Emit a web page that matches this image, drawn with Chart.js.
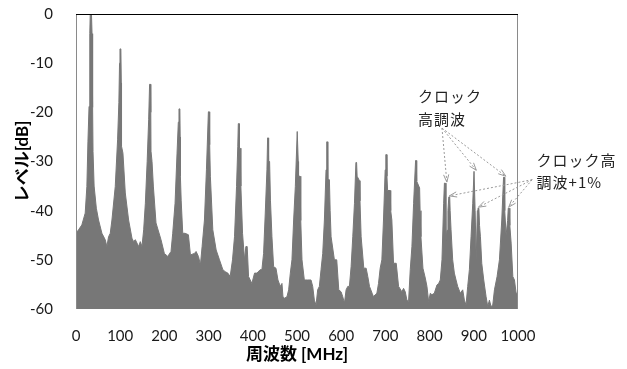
<!DOCTYPE html>
<html>
<head>
<meta charset="utf-8">
<script src="https://cdn.jsdelivr.net/npm/chart.js@4.4.1/dist/chart.umd.min.js"></script>
<style>
  html, body { margin: 0; padding: 0; background: #ffffff; }
  #spectrum { display: block; }
</style>
</head>
<body>
<canvas id="spectrum" width="627" height="369"></canvas>
<script>
const freqMHz = [
  0, 5.7, 13.2, 20.8, 24.6, 27, 29.5, 31.2, 32.2, 35, 36.3, 37.6, 38.5, 41, 46, 51, 58.6, 66.1, 69.9,
  73.7, 77.5, 81.3, 88.8, 94.1, 97, 98.5, 99.5, 101.5, 102.5, 103, 106.2, 111.5, 119, 126.6, 130.4, 134.2, 138, 141.7, 145.5, 149.3, 153.1,
  156.9, 161, 164.4, 166.5, 168.5, 169.2, 169.7, 172, 175, 181, 192.3, 199.9, 207.5, 215,
  218.8, 224.1, 228.6, 231.5, 233, 235, 235.7, 236.2, 238, 241.5, 246.8, 254.3, 258.9, 267.9, 271.7, 277, 281.5,
  285.3, 290.6, 295.1, 298, 299.5, 301.5, 302.2, 302.7, 304, 309.5, 317.1, 324.6, 332.2,
  337.5, 343.5, 348.8, 354.1, 358.6, 363.2, 366, 367.2, 369, 369.7, 371.5, 373, 376.8, 381.3, 384.3, 387.3, 390.4, 397.9, 404, 409.3, 416.8, 420.6,
  424.4, 428.2, 432, 433.5, 435, 435.8, 438, 440, 443.3, 447.1, 452.4, 456.9, 462.2, 466, 468.2, 472, 477.3, 481.1, 484.9, 488.6, 492.4, 496.2,
  500.5, 502.2, 502.8, 503.5, 506.8, 508.5, 511.3, 516.6, 524.2, 531.7, 535.5, 539.3, 543.1, 546.8, 550.6, 554.4, 558.2, 562, 565.7,
  567.3, 568.8, 569.5, 570, 573.3, 575, 577.1, 584.6, 589.9, 594.5, 599.7, 603.5, 607.3, 611.1, 614.9, 618.6, 622.4, 626.2, 630,
  633.3, 634.8, 636, 641.3, 642.5, 645.1, 651.1, 656.4, 660.2, 664, 670, 673.1, 676.9, 680.7, 684.4, 688.2, 692, 695.7, 699.5,
  701, 702.6, 703.5, 705, 710.9, 712, 714.6, 718.4, 724.5, 729.8, 737.3, 741.1, 744.9, 748.7, 752.4, 756.2, 760, 763.8,
  768.3, 769.8, 770.8, 777.4, 778.5, 780.4, 784.9, 790.2, 794, 797.8, 801.6, 805.3, 810.6, 816.7, 820.5, 824.2, 828, 831.8,
  833.5, 835.5, 837, 839.4, 841.5, 843.5, 845.5, 846.5, 848.5, 852.2, 856, 859.8, 863.5, 869.6, 874.9, 878.7, 882.4, 886.2, 890, 893.8, 897.6,
  900.5, 902, 903, 905.5, 908, 909.5, 911.5, 913, 915, 918, 922.5, 927.8, 931.6, 935.3, 939.1, 942.9, 946.7, 952.7, 958, 963.3,
  967.3, 968.8, 970, 973.1, 976.5, 978, 980, 981.5, 984.5, 988.3, 992, 995.8, 1000
];
const levelDb = [
  -44.6, -43.9, -42.9, -40.5, -35.1, -26, -18.8, -4, 0, 0, -4, -19, -28, -35, -39.5, -41.9, -44.6, -45.9, -47.3,
  -45.3, -44.6, -41.9, -35.1, -25.6, -18, -10, -7.1, -7.1, -14, -26.9, -28.3, -36.4, -41.9, -45.6, -46.3, -45.9, -46.6, -47.3, -46.3, -47.3, -43.9,
  -38.5, -30, -21.5, -14.3, -14.3, -20, -27.9, -30, -35, -42.5, -45.9, -48.7, -49.3, -48.3,
  -44.6, -38.5, -28.3, -22, -19.3, -19.3, -25, -33, -38, -44.6, -44.6, -44.9, -49, -48.7, -48.3, -49.3, -51,
  -47.3, -41.9, -31.7, -24, -19.9, -19.9, -26.6, -26.6, -33, -43.9, -48, -50, -52,
  -52.4, -52.7, -53.4, -50, -45.3, -35.1, -27, -22.3, -22.3, -27.3, -27.3, -35, -44.6, -50, -47.3, -47.3, -53.4, -54.8, -52.7, -52.7, -52, -52,
  -48.7, -40.5, -31.7, -25.2, -25.2, -30, -30, -38, -45.3, -51.4, -51.7, -54.1, -55.4, -54.8, -57.5, -57.8, -57.5, -56.1, -52.7, -50, -41.9, -35.1,
  -23.9, -23.9, -30, -33, -33, -42, -50, -54.1, -54.1, -54.1, -55.4, -58.2, -59.2, -56.1, -55.4, -52, -48.7, -41.9, -31.7,
  -26, -26, -31, -33.7, -33.7, -40, -45.3, -50, -50, -56.1, -56.5, -57.5, -58.8, -56.1, -55.4, -55.4, -51.4, -45.3, -38.5,
  -30.2, -30.2, -33, -33.9, -38, -45.3, -51.7, -51.7, -53.4, -55.4, -56.8, -57.5, -57.1, -56.8, -54.8, -51.7, -50, -41.9, -31.7,
  -28.6, -28.6, -33, -35.9, -35.9, -40, -41.9, -50.7, -50.7, -55.4, -56.5, -55.8, -56.5, -58.2, -58.5, -52, -47.3, -38.5,
  -29.8, -29.8, -34, -35.4, -40, -45.3, -51.7, -53.7, -55.4, -58.5, -56.8, -57.1, -56.8, -55.1, -54.8, -54.1, -50, -38.5,
  -34.4, -34.4, -46, -44, -40, -37.2, -37.2, -40, -43.9, -50, -52.7, -54.1, -55.4, -56.8, -56.1, -58.2, -59.2, -55.4, -52, -45.3, -38.5,
  -32, -32, -40, -50, -40, -39.5, -39.5, -43, -45.3, -50.7, -54.1, -57.5, -59.5, -58.2, -59.5, -59.2, -56.1, -53.4, -50, -41.9,
  -33.2, -33.2, -40, -45, -42, -39.5, -39.5, -43, -46.6, -53.4, -54.1, -56.8, -56.8
];

const xTicks = [0, 100, 200, 300, 400, 500, 600, 700, 800, 900, 1000];
const yTicks = [-60, -50, -40, -30, -20, -10, 0];

// peaks pointed at by the callouts
const clockHarmonics = [834.5, 901.2, 968];
const clockPlus1 = [844.5, 910.5, 979];
const clockNote = ['クロック', '高調波'];
const plus1Note = ['クロック高', '調波+1%'];

const grayFill = '#777777';
const tickFont = { family: 'Lato, "Noto Sans CJK JP"', size: 15 };
const titleFont = { family: 'Lato, "Noto Sans CJK JP"', size: 17, weight: 'bold' };

let points = [];
freqMHz.forEach((f, i) => { points.push({ x: f, y: levelDb[i] }); });

function peakTop(f) {
  let best = -Infinity;
  freqMHz.forEach((v, i) => { if (Math.abs(v - f) <= 1.6) best = Math.max(best, levelDb[i]); });
  return best;
}

function drawArrow(ctx, x0, y0, x1, y1) {
  const ang = Math.atan2(y1 - y0, x1 - x0);
  ctx.setLineDash([2, 2]);
  ctx.beginPath();
  ctx.moveTo(x0, y0);
  ctx.lineTo(x1, y1);
  ctx.stroke();
  ctx.setLineDash([]);
  ctx.beginPath();
  ctx.moveTo(x1 - 8 * Math.cos(ang - 0.33), y1 - 8 * Math.sin(ang - 0.33));
  ctx.lineTo(x1, y1);
  ctx.lineTo(x1 - 8 * Math.cos(ang + 0.33), y1 - 8 * Math.sin(ang + 0.33));
  ctx.stroke();
}

const framePlugin = {
  id: 'plotFrame',
  afterDatasetsDraw: (chart) => {
    const { ctx, chartArea: a } = chart;
    ctx.save();
    ctx.lineWidth = 1;
    ctx.strokeStyle = '#8a8a8a';
    ctx.beginPath();
    ctx.moveTo(a.left + 0.5, a.bottom);
    ctx.lineTo(a.left + 0.5, a.top);
    ctx.moveTo(a.right - 0.5, a.top);
    ctx.lineTo(a.right - 0.5, a.bottom);
    ctx.stroke();
    ctx.strokeStyle = '#000000';
    ctx.beginPath();
    ctx.moveTo(a.left, a.top + 0.5);
    ctx.lineTo(a.right, a.top + 0.5);
    ctx.stroke();
    ctx.restore();
  }
};

const calloutPlugin = {
  id: 'callouts',
  afterDraw: (chart) => {
    const { ctx } = chart;
    const sx = chart.scales.x, sy = chart.scales.y;
    ctx.save();
    ctx.fillStyle = '#222222';
    ctx.font = '15px "Noto Sans CJK JP"';
    ctx.letterSpacing = '1px';
    ctx.textAlign = 'left';
    ctx.textBaseline = 'middle';
    ctx.fillText(clockNote[0], sx.getPixelForValue(774), sy.getPixelForValue(-16.8));
    ctx.fillText(clockNote[1], sx.getPixelForValue(774), sy.getPixelForValue(-21.5));
    ctx.fillText(plus1Note[0], sx.getPixelForValue(1042), sy.getPixelForValue(-29.8));
    ctx.fillText(plus1Note[1], sx.getPixelForValue(1042), sy.getPixelForValue(-34.3));

    ctx.strokeStyle = '#9a9a9a';
    ctx.lineWidth = 1;
    let ox = sx.getPixelForValue(828), oy = sy.getPixelForValue(-23.2);
    clockHarmonics.forEach(f => {
      drawArrow(ctx, ox, oy, sx.getPixelForValue(f) + 2, sy.getPixelForValue(peakTop(f)) - 1);
    });
    ox = sx.getPixelForValue(1032);
    oy = sy.getPixelForValue(-33.7);
    clockPlus1.forEach(f => {
      drawArrow(ctx, ox, oy, sx.getPixelForValue(f), sy.getPixelForValue(peakTop(f)) - 1);
    });
    ctx.restore();
  }
};

const chart = new Chart(document.getElementById('spectrum'), {
  type: 'line',
  data: {
    datasets: [{
      data: points,
      borderColor: grayFill,
      backgroundColor: grayFill,
      borderWidth: 1,
      pointRadius: 0,
      tension: 0,
      fill: 'start'
    }]
  },
  options: {
    responsive: false,
    animation: false,
    devicePixelRatio: 1,
    layout: { padding: { left: 0, right: 109, top: 14, bottom: 0 } },
    plugins: {
      legend: { display: false },
      tooltip: { enabled: false }
    },
    scales: {
      x: {
        type: 'linear',
        min: 0,
        max: 1000,
        afterBuildTicks: (scale) => { scale.ticks = xTicks.map(v => ({ value: v })); },
        afterFit: (scale) => { scale.height = 60; scale.paddingLeft = 0; scale.paddingRight = 0; },
        grid: { display: false },
        border: { display: false },
        ticks: { color: '#1a1a1a', font: tickFont, padding: 10, maxRotation: 0, autoSkip: false,
                 callback: (v) => String(v) },
        title: { display: true, text: '周波数 [MHz]', color: '#000000', font: titleFont, padding: { top: 0, bottom: 4 } }
      },
      y: {
        min: -60,
        max: 0,
        afterBuildTicks: (scale) => { scale.ticks = yTicks.map(v => ({ value: v })); },
        afterFit: (scale) => { scale.width = 76; scale.paddingTop = 0; scale.paddingBottom = 0; },
        grid: { display: false },
        border: { display: false },
        ticks: { color: '#1a1a1a', font: tickFont, padding: 15, callback: (v) => String(v) },
        title: { display: true, text: 'レベル[dB]', color: '#000000', font: titleFont, padding: { top: 12, bottom: 0 } }
      }
    }
  },
  plugins: [framePlugin, calloutPlugin]
});
</script>
</body>
</html>
